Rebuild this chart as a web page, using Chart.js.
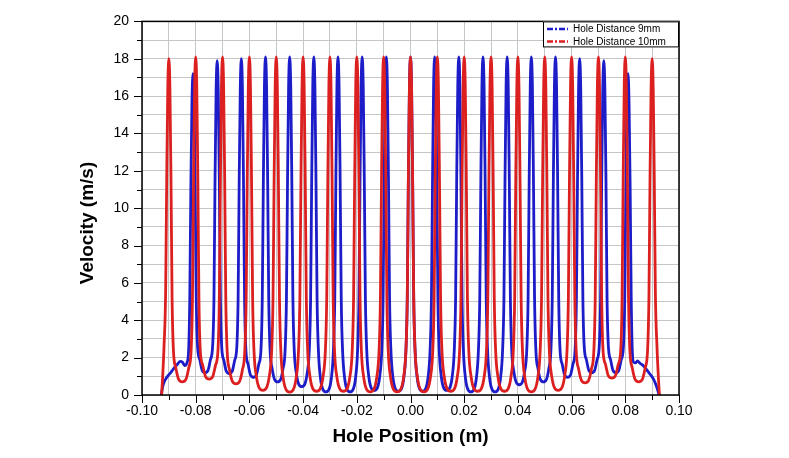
<!DOCTYPE html>
<html>
<head>
<meta charset="utf-8">
<script src="https://cdn.jsdelivr.net/npm/chart.js@4/dist/chart.umd.min.js"></script>
<style>
html,body{margin:0;padding:0;background:#fff;}
canvas{display:block;}
</style>
</head>
<body>
<canvas id="c" width="789" height="458"></canvas>
<script>
// ---------- DATA ----------
const seriesLabels = ["Hole Distance 9mm", "Hole Distance 10mm"];
const xTitle = "Hole Position (m)";
const yTitle = "Velocity (m/s)";

// Hole Distance 9mm (blue)
const blueX = [
 -0.0928,-0.0923,-0.0916,-0.0905,-0.0893,-0.0880,-0.0868,-0.0857,-0.0849,-0.0841,-0.0832,-0.0826,-0.0822,-0.0818,-0.0814,-0.0810,
 -0.0806,-0.0802,-0.0798,-0.0793,-0.0785,-0.0776,-0.0765,
 -0.0754,-0.0745,-0.0737,-0.0732,-0.0728,-0.0724,-0.0720,
 -0.0716,-0.0712,-0.0708,-0.0703,-0.0695,-0.0686,-0.0675,
 -0.0664,-0.0655,-0.0647,-0.0642,-0.0638,-0.0634,-0.0630,
 -0.0626,-0.0622,-0.0618,-0.0613,-0.0605,-0.0596,-0.0585,
 -0.0574,-0.0565,-0.0557,-0.0552,-0.0548,-0.0544,-0.0540,
 -0.0536,-0.0532,-0.0528,-0.0523,-0.0515,-0.0506,-0.0495,
 -0.0484,-0.0475,-0.0467,-0.0462,-0.0458,-0.0454,-0.0450,
 -0.0446,-0.0442,-0.0438,-0.0433,-0.0425,-0.0416,-0.0405,
 -0.0394,-0.0385,-0.0377,-0.0372,-0.0368,-0.0364,-0.0360,
 -0.0356,-0.0352,-0.0348,-0.0343,-0.0335,-0.0326,-0.0315,
 -0.0304,-0.0295,-0.0287,-0.0282,-0.0278,-0.0274,-0.0270,
 -0.0266,-0.0262,-0.0258,-0.0253,-0.0245,-0.0236,-0.0225,
 -0.0214,-0.0205,-0.0197,-0.0192,-0.0188,-0.0184,-0.0180,
 -0.0176,-0.0172,-0.0168,-0.0163,-0.0155,-0.0146,-0.0135,
 -0.0124,-0.0115,-0.0107,-0.0102,-0.0098,-0.0094,-0.0090,
 -0.0086,-0.0082,-0.0078,-0.0073,-0.0065,-0.0056,-0.0045,
 -0.0034,-0.0025,-0.0017,-0.0012,-0.0008,-0.0004,0.0000,
 0.0004,0.0008,0.0012,0.0017,0.0025,0.0034,0.0045,
 0.0056,0.0065,0.0073,0.0078,0.0082,0.0086,0.0090,
 0.0094,0.0098,0.0102,0.0107,0.0115,0.0124,0.0135,
 0.0146,0.0155,0.0163,0.0168,0.0172,0.0176,0.0180,
 0.0184,0.0188,0.0192,0.0197,0.0205,0.0214,0.0225,
 0.0236,0.0245,0.0253,0.0258,0.0262,0.0266,0.0270,
 0.0274,0.0278,0.0282,0.0287,0.0295,0.0304,0.0315,
 0.0326,0.0335,0.0343,0.0348,0.0352,0.0356,0.0360,
 0.0364,0.0368,0.0372,0.0377,0.0385,0.0394,0.0405,
 0.0416,0.0425,0.0433,0.0438,0.0442,0.0446,0.0450,
 0.0454,0.0458,0.0462,0.0467,0.0475,0.0484,0.0495,
 0.0506,0.0515,0.0523,0.0528,0.0532,0.0536,0.0540,
 0.0544,0.0548,0.0552,0.0557,0.0565,0.0574,0.0585,
 0.0596,0.0605,0.0613,0.0618,0.0622,0.0626,0.0630,
 0.0634,0.0638,0.0642,0.0647,0.0655,0.0664,0.0675,
 0.0686,0.0695,0.0703,0.0708,0.0712,0.0716,0.0720,
 0.0724,0.0728,0.0732,0.0737,0.0745,0.0754,0.0765,
 0.0776,0.0785,0.0793,0.0798,0.0802,0.0806,0.0810,
 0.0814,0.0818,0.0822,0.0826,0.0831,0.0838,0.0845,0.0855,0.0868,0.0880,0.0893,0.0905,0.0914,0.0921,0.0926
];
const blueY = [
 0,0.45,0.75,1.0,1.2,1.45,1.65,1.8,1.75,1.58,1.75,2.5,5.2,11.2,15.6,17.2,
 15.6,11.2,5.2,2.6,1.9,1.32,1.2,
 1.32,1.9,2.6,5.2,11.5,16.3,17.9,
 16.3,11.5,5.2,2.55,1.85,1.27,1.15,
 1.27,1.85,2.55,5.2,11.5,16.4,18.0,
 16.4,11.5,5.2,2.4,1.65,1.07,0.95,
 1.07,1.65,2.4,5.2,11.5,16.5,18.1,
 16.5,11.5,5.2,2.4,1.4,0.82,0.7,
 0.82,1.4,2.4,5.2,11.5,16.5,18.1,
 16.5,11.5,5.2,2.4,1.15,0.57,0.45,
 0.57,1.15,2.4,5.2,11.5,16.5,18.1,
 16.5,11.5,5.2,2.4,0.87,0.29,0.17,
 0.29,0.87,2.4,5.2,11.5,16.5,18.1,
 16.5,11.5,5.2,2.4,0.87,0.29,0.17,
 0.29,0.87,2.4,5.2,11.5,16.5,18.1,
 16.5,11.5,5.2,2.4,0.95,0.37,0.25,
 0.37,0.95,2.4,5.2,11.5,16.5,18.1,
 16.5,11.5,5.2,2.4,0.9,0.32,0.2,
 0.32,0.9,2.4,5.2,11.5,16.5,18.1,
 16.5,11.5,5.2,2.4,0.9,0.32,0.2,
 0.32,0.9,2.4,5.2,11.5,16.5,18.1,
 16.5,11.5,5.2,2.4,0.95,0.37,0.25,
 0.37,0.95,2.4,5.2,11.5,16.5,18.1,
 16.5,11.5,5.2,2.4,0.87,0.29,0.17,
 0.29,0.87,2.4,5.2,11.5,16.5,18.1,
 16.5,11.5,5.2,2.4,0.87,0.29,0.17,
 0.29,0.87,2.4,5.2,11.5,16.5,18.1,
 16.5,11.5,5.2,2.4,1.25,0.67,0.55,
 0.67,1.25,2.4,5.2,11.5,16.5,18.1,
 16.5,11.5,5.2,2.4,1.4,0.82,0.7,
 0.82,1.4,2.4,5.2,11.5,16.5,18.1,
 16.5,11.5,5.2,2.4,1.65,1.07,0.95,
 1.07,1.65,2.4,5.2,11.5,16.4,18.0,
 16.4,11.5,5.2,2.6,1.9,1.32,1.2,
 1.32,1.9,2.6,5.2,11.5,16.3,17.9,
 16.3,11.5,5.2,2.6,1.9,1.32,1.2,
 1.32,1.9,2.6,5.2,11.2,15.6,17.2,
 15.6,11.2,5.2,2.4,1.75,1.72,1.82,1.7,1.55,1.35,1.1,0.85,0.55,0.25,0
];

// Hole Distance 10mm (red)
const redX = [
 -0.0927,-0.0923,-0.0918,-0.0912,-0.0908,-0.0904,-0.0900,
 -0.0896,-0.0892,-0.0888,-0.0883,-0.0874,-0.0863,-0.0850,
 -0.0837,-0.0826,-0.0817,-0.0812,-0.0808,-0.0804,-0.0800,
 -0.0796,-0.0792,-0.0788,-0.0783,-0.0774,-0.0763,-0.0750,
 -0.0737,-0.0726,-0.0717,-0.0712,-0.0708,-0.0704,-0.0700,
 -0.0696,-0.0692,-0.0688,-0.0683,-0.0674,-0.0663,-0.0650,
 -0.0637,-0.0626,-0.0617,-0.0612,-0.0608,-0.0604,-0.0600,
 -0.0596,-0.0592,-0.0588,-0.0583,-0.0574,-0.0563,-0.0550,
 -0.0537,-0.0526,-0.0517,-0.0512,-0.0508,-0.0504,-0.0500,
 -0.0496,-0.0492,-0.0488,-0.0483,-0.0474,-0.0463,-0.0450,
 -0.0437,-0.0426,-0.0417,-0.0412,-0.0408,-0.0404,-0.0400,
 -0.0396,-0.0392,-0.0388,-0.0383,-0.0374,-0.0363,-0.0350,
 -0.0337,-0.0326,-0.0317,-0.0312,-0.0308,-0.0304,-0.0300,
 -0.0296,-0.0292,-0.0288,-0.0283,-0.0274,-0.0263,-0.0250,
 -0.0237,-0.0226,-0.0217,-0.0212,-0.0208,-0.0204,-0.0200,
 -0.0196,-0.0192,-0.0188,-0.0183,-0.0174,-0.0163,-0.0150,
 -0.0137,-0.0126,-0.0117,-0.0112,-0.0108,-0.0104,-0.0100,
 -0.0096,-0.0092,-0.0088,-0.0083,-0.0074,-0.0063,-0.0050,
 -0.0037,-0.0026,-0.0017,-0.0012,-0.0008,-0.0004,0.0000,
 0.0004,0.0008,0.0012,0.0017,0.0026,0.0037,0.0050,
 0.0063,0.0074,0.0083,0.0088,0.0092,0.0096,0.0100,
 0.0104,0.0108,0.0112,0.0117,0.0126,0.0137,0.0150,
 0.0163,0.0174,0.0183,0.0188,0.0192,0.0196,0.0200,
 0.0204,0.0208,0.0212,0.0217,0.0226,0.0237,0.0250,
 0.0263,0.0274,0.0283,0.0288,0.0292,0.0296,0.0300,
 0.0304,0.0308,0.0312,0.0317,0.0326,0.0337,0.0350,
 0.0363,0.0374,0.0383,0.0388,0.0392,0.0396,0.0400,
 0.0404,0.0408,0.0412,0.0417,0.0426,0.0437,0.0450,
 0.0463,0.0474,0.0483,0.0488,0.0492,0.0496,0.0500,
 0.0504,0.0508,0.0512,0.0517,0.0526,0.0537,0.0550,
 0.0563,0.0574,0.0583,0.0588,0.0592,0.0596,0.0600,
 0.0604,0.0608,0.0612,0.0617,0.0626,0.0637,0.0650,
 0.0663,0.0674,0.0683,0.0688,0.0692,0.0696,0.0700,
 0.0704,0.0708,0.0712,0.0717,0.0726,0.0737,0.0750,
 0.0763,0.0774,0.0783,0.0788,0.0792,0.0796,0.0800,
 0.0804,0.0808,0.0812,0.0817,0.0826,0.0837,0.0850,
 0.0863,0.0874,0.0883,0.0888,0.0892,0.0896,0.0900,
 0.0904,0.0908,0.0912,0.0918,0.0923,0.0927
];
const redY = [
 0,1.0,2.6,5.5,11.5,16.4,18.0,
 16.4,11.5,5.2,2.4,1.45,0.82,0.7,
 0.82,1.45,2.4,5.2,11.5,16.5,18.1,
 16.5,11.5,5.2,2.4,1.6,0.97,0.85,
 0.97,1.6,2.4,5.2,11.5,16.5,18.1,
 16.5,11.5,5.2,2.4,1.35,0.72,0.6,
 0.72,1.35,2.4,5.2,11.5,16.5,18.1,
 16.5,11.5,5.2,2.4,1.0,0.37,0.25,
 0.37,1.0,2.4,5.2,11.5,16.5,18.1,
 16.5,11.5,5.2,2.4,0.9,0.27,0.15,
 0.27,0.9,2.4,5.2,11.5,16.5,18.1,
 16.5,11.5,5.2,2.4,0.95,0.32,0.2,
 0.32,0.95,2.4,5.2,11.5,16.5,18.1,
 16.5,11.5,5.2,2.4,0.95,0.32,0.2,
 0.32,0.95,2.4,5.2,11.5,16.5,18.1,
 16.5,11.5,5.2,2.4,0.92,0.29,0.17,
 0.29,0.92,2.4,5.2,11.5,16.5,18.1,
 16.5,11.5,5.2,2.4,0.92,0.29,0.17,
 0.29,0.92,2.4,5.2,11.5,16.5,18.1,
 16.5,11.5,5.2,2.4,0.92,0.29,0.17,
 0.29,0.92,2.4,5.2,11.5,16.5,18.1,
 16.5,11.5,5.2,2.4,0.95,0.32,0.2,
 0.32,0.95,2.4,5.2,11.5,16.5,18.1,
 16.5,11.5,5.2,2.4,0.95,0.32,0.2,
 0.32,0.95,2.4,5.2,11.5,16.5,18.1,
 16.5,11.5,5.2,2.4,0.95,0.32,0.2,
 0.32,0.95,2.4,5.2,11.5,16.5,18.1,
 16.5,11.5,5.2,2.4,0.92,0.29,0.17,
 0.29,0.92,2.4,5.2,11.5,16.5,18.1,
 16.5,11.5,5.2,2.4,1.0,0.37,0.25,
 0.37,1.0,2.4,5.2,11.5,16.5,18.1,
 16.5,11.5,5.2,2.4,1.4,0.77,0.65,
 0.77,1.4,2.4,5.2,11.5,16.5,18.1,
 16.5,11.5,5.2,2.4,1.65,1.02,0.9,
 1.02,1.65,2.4,5.2,11.5,16.5,18.1,
 16.5,11.5,5.2,2.4,1.45,0.82,0.7,
 0.82,1.45,2.4,5.2,11.5,16.4,18.0,
 16.4,11.5,5.5,2.6,1.0,0
];

const seriesColors = ["#1c1cc8", "#dc2020"];

// ---------- CHART ----------
const FONT = 'Arial, "Liberation Sans", Helvetica, sans-serif';
const toPts = (xs, ys) => xs.map((x, i) => ({ x: x, y: ys[i] }));

const framePlugin = {
  id: 'frame',
  afterDatasetsDraw(chart) {
    const { ctx, chartArea: a, scales } = chart;
    ctx.save();
    ctx.strokeStyle = '#000';
    ctx.lineWidth = 1.5;
    ctx.strokeRect(a.left, a.top, a.right - a.left, a.bottom - a.top);
    ctx.lineWidth = 1;
    scales.x.ticks.forEach(t => {
      const px = Math.round(scales.x.getPixelForValue(t.value)) + 0.5;
      const major = Math.round(t.value * 100) % 2 === 0;
      ctx.beginPath();
      ctx.moveTo(px, a.bottom);
      ctx.lineTo(px, a.bottom + (major ? 8 : 5));
      ctx.stroke();
    });
    scales.y.ticks.forEach(t => {
      const py = Math.round(scales.y.getPixelForValue(t.value)) + 0.5;
      const major = Math.round(t.value) % 2 === 0;
      ctx.beginPath();
      ctx.moveTo(a.left, py);
      ctx.lineTo(a.left - (major ? 8 : 5), py);
      ctx.stroke();
    });
    ctx.restore();
  },
  afterDraw(chart) {
    const { ctx, chartArea: a } = chart;
    ctx.save();
    // y-axis title
    ctx.translate(88, 223);
    ctx.rotate(-Math.PI / 2);
    ctx.fillStyle = '#000';
    ctx.font = 'bold 19px ' + FONT;
    ctx.textAlign = 'center';
    ctx.textBaseline = 'middle';
    ctx.fillText(yTitle, 0, 0);
    ctx.restore();

    // legend box
    const w = 136, h = 26;
    const bx = a.right - w, by = a.top;
    ctx.save();
    ctx.fillStyle = '#fff';
    ctx.fillRect(bx, by, w, h);
    ctx.strokeStyle = '#000';
    ctx.lineWidth = 1;
    ctx.strokeRect(bx + 0.5, by + 0.5, w - 1, h - 1);
    chart.data.datasets.forEach((ds, i) => {
      const yy = by + 7.5 + i * 12.5;
      ctx.strokeStyle = ds.borderColor;
      ctx.lineWidth = 2.5;
      ctx.setLineDash([6, 2, 2, 2]);
      ctx.beginPath();
      ctx.moveTo(bx + 4, yy);
      ctx.lineTo(bx + 25, yy);
      ctx.stroke();
      ctx.setLineDash([]);
      ctx.fillStyle = '#000';
      ctx.font = '10px ' + FONT;
      ctx.textBaseline = 'middle';
      ctx.textAlign = 'left';
      ctx.fillText(ds.label, bx + 30, yy + 0.5);
    });
    ctx.restore();
  }
};

new Chart(document.getElementById('c'), {
  type: 'scatter',
  data: {
    datasets: [
      { label: seriesLabels[0], data: toPts(blueX, blueY), borderColor: seriesColors[0], backgroundColor: seriesColors[0],
        showLine: true, pointRadius: 0, borderWidth: 2.8, cubicInterpolationMode: 'monotone', order: 2 },
      { label: seriesLabels[1], data: toPts(redX, redY), borderColor: seriesColors[1], backgroundColor: seriesColors[1],
        showLine: true, pointRadius: 0, borderWidth: 2.8, cubicInterpolationMode: 'monotone', order: 1 }
    ]
  },
  options: {
    responsive: false,
    animation: false,
    devicePixelRatio: 1,
    layout: { padding: { left: 77, top: 11, right: 110, bottom: 10 } },
    plugins: { legend: { display: false }, tooltip: { enabled: false } },
    scales: {
      x: {
        type: 'linear', min: -0.1, max: 0.1,
        afterFit(s) { s.height = 53; },
        border: { display: false },
        grid: { color: '#c6c6c6', lineWidth: 1, drawTicks: false },
        ticks: {
          stepSize: 0.01, autoSkip: false, maxRotation: 0, padding: 8,
          color: '#000', font: { family: FONT, size: 14 },
          callback: v => (Math.round(v * 100) % 2 === 0 ? (Math.round(v * 100) / 100).toFixed(2) : '')
        },
        title: { display: true, text: xTitle, color: '#000', padding: 0, font: { family: FONT, size: 19, weight: 'bold' } }
      },
      y: {
        type: 'linear', min: 0, max: 20,
        afterFit(s) { s.width = 65; },
        border: { display: false },
        grid: { color: '#c6c6c6', lineWidth: 1, drawTicks: false },
        ticks: {
          stepSize: 1, autoSkip: false, padding: 13,
          color: '#000', font: { family: FONT, size: 14 },
          callback: v => (Math.round(v) % 2 === 0 ? String(Math.round(v)) : '')
        },
        title: { display: false }
      }
    }
  },
  plugins: [framePlugin]
});
</script>
</body>
</html>
